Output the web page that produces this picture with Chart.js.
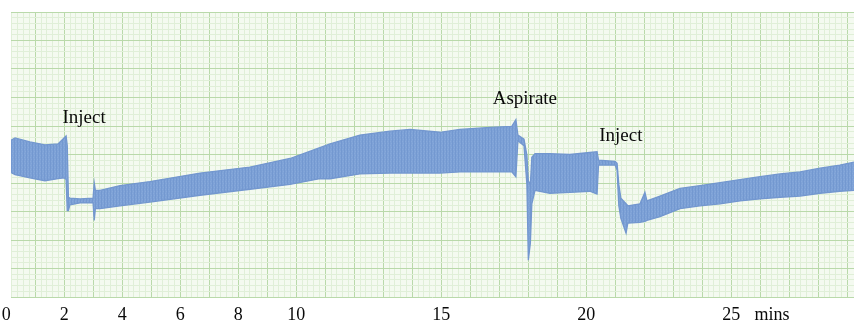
<!DOCTYPE html>
<html>
<head>
<meta charset="utf-8">
<script src="https://cdn.jsdelivr.net/npm/chart.js@4"></script>
<style>
html,body{margin:0;padding:0;background:#ffffff;}
#wrap{width:854px;height:325px;}
</style>
</head>
<body>
<div id="wrap"><canvas id="c" width="854" height="325"></canvas></div>
<script>
// time in minutes
const times = [0.12,0.30,0.81,1.33,1.78,1.99,2.06,2.10,2.14,2.19,2.54,2.99,3.03,3.07,3.23,3.92,4.95,6.68,8.40,9.78,10.81,11.16,12.19,13.23,13.92,14.95,15.64,16.68,17.43,17.57,17.64,17.85,17.95,18.00,18.07,18.12,18.23,18.74,19.43,20.12,20.37,20.42,20.99,21.06,21.12,21.19,21.37,21.43,21.85,22.02,22.09,22.54,23.23,23.92,24.61,25.30,25.99,26.68,27.37,28.06,28.74,29.23];
// upper envelope of the recorded trace (chart divisions)
const upper = [5.48,5.58,5.44,5.34,5.37,5.58,5.65,5.31,3.50,3.47,3.44,3.47,4.01,3.74,3.74,3.91,4.05,4.35,4.56,4.86,5.24,5.37,5.68,5.82,5.88,5.78,5.88,5.95,5.99,6.22,5.68,5.54,4.97,4.08,3.95,4.90,5.03,5.03,5.00,5.07,5.10,4.80,4.76,4.69,3.95,3.47,3.27,3.20,3.27,3.67,3.37,3.54,3.81,3.91,4.01,4.12,4.22,4.32,4.39,4.52,4.63,4.73];
// lower envelope of the recorded trace (chart divisions)
const lower = [4.39,4.29,4.18,4.08,4.15,4.18,4.12,3.03,3.03,3.23,3.30,3.30,2.69,3.10,3.10,3.20,3.33,3.57,3.78,3.95,4.15,4.15,4.32,4.35,4.35,4.35,4.39,4.39,4.39,4.22,5.48,5.31,3.95,1.29,1.90,3.27,3.74,3.64,3.67,3.71,3.61,4.63,4.63,4.46,3.20,2.76,2.24,2.59,2.62,2.65,2.69,2.82,3.10,3.20,3.27,3.37,3.44,3.50,3.54,3.64,3.71,3.74];
// x tick labels
const tickValues = [0,2,4,6,8,10,15,20,25,26.4];
const tickLabels = ['0','2','4','6','8','10','15','20','25','mins'];
// event annotations
const noteLabels = ['Inject','Aspirate','Inject'];
const noteTimes = [2.68,17.88,21.19];
const noteLevels = [6.12,6.77,5.48];

const X_MIN = 0.16, X_MAX = 29.23, Y_MIN = 0, Y_MAX = 10;
const SERIF = "'Liberation Serif', 'Times New Roman', serif";
const PAPER = '#f4faf0';
const MAJOR = '#b9d9aa';
const MINOR = '#e0efd8';
const TRACE_LINE = '#7397cf';

// subtle striped fill to suggest the oscillating pen trace
function makeTraceFill(){
  const p = document.createElement('canvas');
  p.width = 3; p.height = 4;
  const g = p.getContext('2d');
  g.fillStyle = '#7ea2d7'; g.fillRect(0,0,3,4);
  g.fillStyle = '#7398d0'; g.fillRect(2,0,1,4);
  g.fillStyle = '#86a8da'; g.fillRect(0,1,1,1); g.fillRect(1,3,1,1);
  return g.createPattern(p,'repeat');
}
const TRACE_FILL = makeTraceFill();

const upperPts = times.map((t,i)=>({x:t,y:upper[i]}));
const lowerPts = times.map((t,i)=>({x:t,y:lower[i]}));

const isMajor = v => Math.abs(v - Math.round(v)) < 1e-6;

const paperPlugin = {
  id:'paper',
  beforeDraw(chart){
    const {ctx, chartArea:a} = chart;
    ctx.save();
    ctx.fillStyle = '#ffffff';
    ctx.fillRect(0,0,chart.width,chart.height);
    ctx.fillStyle = PAPER;
    ctx.fillRect(a.left,a.top,a.right-a.left,a.bottom-a.top);
    ctx.restore();
  }
};

const notesPlugin = {
  id:'notes',
  afterDatasetsDraw(chart){
    const {ctx} = chart;
    const xs = chart.scales.x, ys = chart.scales.y;
    ctx.save();
    ctx.font = '19px ' + SERIF;
    ctx.fillStyle = '#0a0a0a';
    ctx.textAlign = 'center';
    ctx.textBaseline = 'alphabetic';
    noteLabels.forEach((txt,i)=>{
      ctx.fillText(txt, xs.getPixelForValue(noteTimes[i]), ys.getPixelForValue(noteLevels[i]));
    });
    ctx.restore();
  }
};

new Chart(document.getElementById('c'), {
  type:'line',
  data:{
    datasets:[
      {label:'upper', data:upperPts, borderColor:TRACE_LINE, borderWidth:1.3, pointRadius:0, tension:0, fill:false},
      {label:'lower', data:lowerPts, borderColor:TRACE_LINE, borderWidth:1.3, pointRadius:0, tension:0, fill:'-1', backgroundColor:TRACE_FILL}
    ]
  },
  options:{
    responsive:false,
    animation:false,
    devicePixelRatio:1,
    layout:{padding:{top:12,left:11,right:0,bottom:0}},
    plugins:{legend:{display:false}, tooltip:{enabled:false}},
    scales:{
      x:{
        type:'linear', position:'bottom', min:X_MIN, max:X_MAX,
        grid:{display:false}, border:{display:false},
        afterBuildTicks(scale){ scale.ticks = tickValues.map(v=>({value:v})); },
        ticks:{
          autoSkip:false, maxRotation:0, padding:1, color:'#0a0a0a',
          font:{family:SERIF, size:18, lineHeight:1},
          callback(value){ const i = tickValues.indexOf(value); return i>=0 ? tickLabels[i] : ''; }
        }
      },
      xg:{
        type:'linear', position:'top', min:X_MIN, max:X_MAX,
        border:{display:false},
        ticks:{display:false, stepSize:0.2},
        grid:{drawTicks:false, tickLength:0, lineWidth:1,
          color:c=> isMajor(c.tick.value) ? MAJOR : MINOR}
      },
      y:{
        type:'linear', position:'left', min:Y_MIN, max:Y_MAX,
        border:{display:false},
        ticks:{display:false, stepSize:0.2},
        grid:{drawTicks:false, tickLength:0, lineWidth:1,
          color:c=> isMajor(c.tick.value) ? MAJOR : MINOR}
      }
    }
  },
  plugins:[paperPlugin, notesPlugin]
});
</script>
</body>
</html>
